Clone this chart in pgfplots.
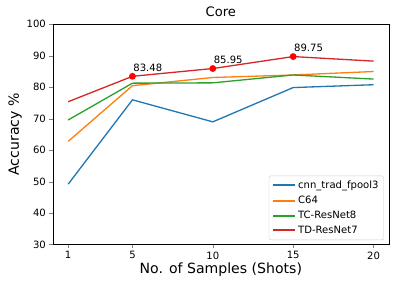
\documentclass[border={5pt 4pt 4pt 3.5pt}]{standalone}
\usepackage{fontspec}
\setmainfont{DejaVu Sans}
\usepackage{pgfplots}
\pgfplotsset{compat=1.18}
\definecolor{tabblue}{HTML}{1F77B4}
\definecolor{taborange}{HTML}{FF7F0E}
\definecolor{tabgreen}{HTML}{2CA02C}
\definecolor{tabred}{HTML}{D62728}
\begin{document}
\begin{tikzpicture}
\begin{axis}[
  scale only axis, width=334pt, height=219pt,
  xmin=0.05, xmax=20.95, ymin=30, ymax=100,
  xtick={1,5,10,15,20}, ytick={30,40,...,100},
  /pgf/number format/assume math mode=true,
  tick label style={font=\fontsize{10}{12}\selectfont},
  tick align=outside, major tick length=3.5pt,
  xtick pos=bottom, ytick pos=left,
  title={Core}, title style={font=\fontsize{13}{15}\selectfont, yshift=-2pt},
  xlabel={No. of Samples (Shots)}, ylabel={Accuracy \%},
  label style={font=\fontsize{14}{16}\selectfont},
  xlabel style={yshift=3pt},
  ylabel style={yshift=-2pt},
  legend style={font=\fontsize{10}{12}\selectfont, draw=black!20, rounded corners=2pt, row sep=2pt, inner ysep=3pt, at={(0.985,0.02)}, anchor=south east},
  legend cell align=left,
  legend image code/.code={\draw[#1, line width=2pt] (0pt,0pt) -- (22pt,0pt);},
  every axis plot/.append style={line width=1.3pt},
]
\addplot[tabblue, no marks] coordinates {(1,49.2) (5,76.0) (10,69.0) (15,79.9) (20,80.8)};
\addlegendentry{cnn\_trad\_fpool3}
\addplot[taborange, no marks] coordinates {(1,62.8) (5,80.5) (10,83.1) (15,83.9) (20,85.0)};
\addlegendentry{C64}
\addplot[tabgreen, no marks] coordinates {(1,69.6) (5,81.3) (10,81.4) (15,83.9) (20,82.6)};
\addlegendentry{TC-ResNet8}
\addplot[tabred, no marks] coordinates {(1,75.4) (5,83.48) (10,85.95) (15,89.75) (20,88.3)};
\addlegendentry{TD-ResNet7}
\addplot[red, only marks, mark=*, mark size=2.7pt, forget plot,
  nodes near coords, point meta=explicit symbolic,
  every node near coord/.append style={anchor=south west, xshift=-3pt, yshift=1pt, font=\fontsize{10}{12}\selectfont, text=black}]
  coordinates {(5,83.48) [83.48] (10,85.95) [85.95] (15,89.75) [89.75]};
\end{axis}
\end{tikzpicture}
\end{document}
